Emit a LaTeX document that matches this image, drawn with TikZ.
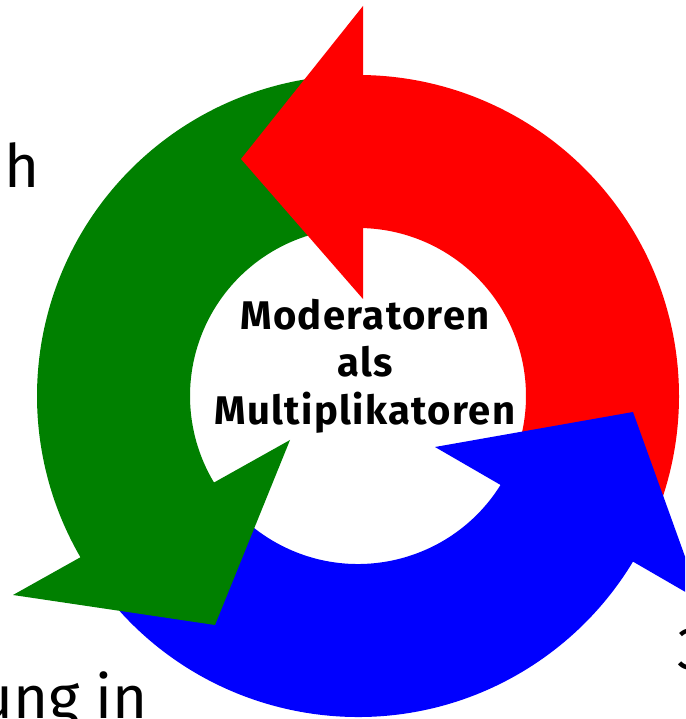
\documentclass[tikz,border=0pt]{standalone}
\usepackage{fontspec}
\setmainfont{Fira Sans}
\newfontfamily\centerfont[LetterSpace=3.5]{Fira Sans}
\usetikzlibrary{calc}
\definecolor{pgreen}{RGB}{0,128,0}
\definecolor{pred}{RGB}{255,0,0}
\definecolor{pblue}{RGB}{0,0,255}
\begin{document}
\begin{tikzpicture}[x=1pt,y=1pt,
  ctext/.style={font=\centerfont\bfseries\fontsize{40}{47.5}\selectfont, align=center, inner sep=0pt},
  otext/.style={font=\fontsize{60}{60}\selectfont, inner sep=0pt}]
\useasboundingbox (0,0) rectangle (685,719);
\clip (0,0) rectangle (685,719);
\coordinate (C) at (358,323);
% bodies
\fill[pred] ($(C)+(-20:321)$) arc[start angle=-20,end angle=91,radius=321]
  -- ($(C)+(91:168)$) arc[start angle=91,end angle=-20,radius=168] -- cycle;
\fill[pblue] ($(C)+(215:321)$) arc[start angle=215,end angle=331,radius=321]
  -- ($(C)+(331:168)$) arc[start angle=331,end angle=215,radius=168] -- cycle;
\fill[pgreen] ($(C)+(98:321)$) arc[start angle=98,end angle=213,radius=321]
  -- ($(C)+(213:168)$) arc[start angle=213,end angle=98,radius=168] -- cycle;
% heads
\fill[pred] (363,713) -- (241,560) -- (363,420) -- cycle;
\fill[pblue] (435,272) -- (633,307) -- (701,118) -- cycle;
\fill[pgreen] (290,279) -- (215,94) -- (13,124) -- cycle;
% texts
\node[ctext] (mid) at (365,353) {Moderatoren\\als\\Multiplikatoren};
\node[otext, anchor=base west] (lh) at (4,531) {h};
\node[otext, anchor=base east] (lb) at (148,0) {ung in};
\node[otext, anchor=base west] (lr) at (677,49) {3};
\end{tikzpicture}
\end{document}
